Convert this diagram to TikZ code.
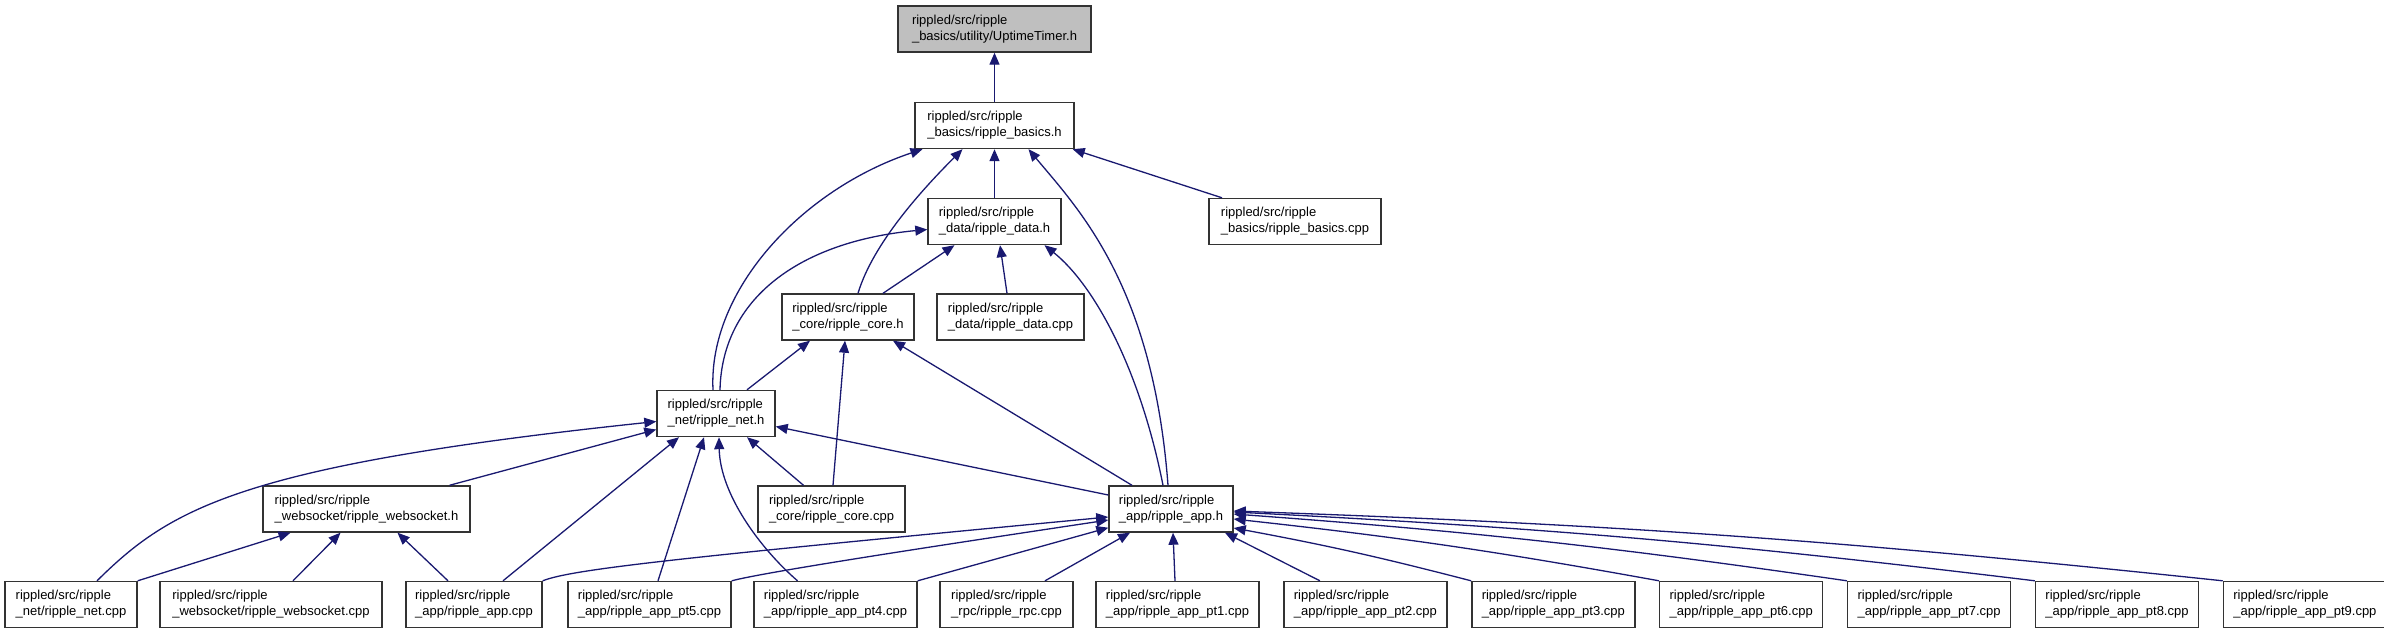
\documentclass[tikz,border=0pt]{standalone}
\usepackage{fontspec}
\setmainfont{Liberation Sans}
\usetikzlibrary{arrows.meta, positioning}
\definecolor{edgeblue}{RGB}{25,25,112}
\definecolor{rootgray}{RGB}{191,191,191}

\begin{document}
\begin{tikzpicture}[x=1pt, y=-1pt, font=\fontsize{13}{16}\selectfont,
    file/.style={draw=black!80, line width=1.4pt, fill=white, align=left, minimum height=46pt, inner xsep=8pt, inner ysep=0pt},
    rootfile/.style={file, fill=rootgray},
    ptfile/.style={file, minimum width=163pt},
    dep/.style={draw=edgeblue, line width=1.3pt, -{Triangle[length=12pt, width=10pt]}}]
    \useasboundingbox (0,0) rectangle (2384,635);

    % headers
    \node[rootfile, minimum width=193pt] (timer) at (994.5,29) {rippled/src/ripple\\\_basics/utility/UptimeTimer.h};
    \node[file, minimum width=159pt] (basicsh) at (994.5,125.5) {rippled/src/ripple\\\_basics/ripple\_basics.h};
    \node[file, minimum width=133pt] (datah) at (994.5,221.5) {rippled/src/ripple\\\_data/ripple\_data.h};
    \node[file, minimum width=172pt] (basicscpp) at (1295,221.5) {rippled/src/ripple\\\_basics/ripple\_basics.cpp};
    \node[file, minimum width=132pt] (coreh) at (848,317) {rippled/src/ripple\\\_core/ripple\_core.h};
    \node[file, minimum width=147pt] (datacpp) at (1010.5,317) {rippled/src/ripple\\\_data/ripple\_data.cpp};
    \node[file, minimum width=118pt] (neth) at (716,413.5) {rippled/src/ripple\\\_net/ripple\_net.h};
    \node[file, minimum width=207pt] (wsh) at (366.5,509) {rippled/src/ripple\\\_websocket/ripple\_websocket.h};
    \node[file, minimum width=147pt] (corecpp) at (831.5,509) {rippled/src/ripple\\\_core/ripple\_core.cpp};
    \node[file, minimum width=124pt] (apph) at (1171,509) {rippled/src/ripple\\\_app/ripple\_app.h};

    % bottom row
    \node[file, minimum width=132pt] (netcpp) at (71,604.5) {rippled/src/ripple\\\_net/ripple\_net.cpp};
    \node[file, minimum width=222pt] (wscpp) at (271,604.5) {rippled/src/ripple\\\_websocket/ripple\_websocket.cpp};
    \node[file, minimum width=136pt] (appcpp) at (474,604.5) {rippled/src/ripple\\\_app/ripple\_app.cpp};
    \node[ptfile] (pt5) at (649.5,604.5) {rippled/src/ripple\\\_app/ripple\_app\_pt5.cpp};
    \node[ptfile] (pt4) at (835.5,604.5) {rippled/src/ripple\\\_app/ripple\_app\_pt4.cpp};
    \node[file, minimum width=133pt] (rpc) at (1006.5,604.5) {rippled/src/ripple\\\_rpc/ripple\_rpc.cpp};
    \node[ptfile] (pt1) at (1177.5,604.5) {rippled/src/ripple\\\_app/ripple\_app\_pt1.cpp};
    \foreach \prev/\cur in {pt1/pt2, pt2/pt3, pt3/pt6, pt6/pt7, pt7/pt8, pt8/pt9}
        \node[ptfile, right=23.5pt of \prev] (\cur) {rippled/src/ripple\\\_app/ripple\_app\_\cur.cpp};

    % into UptimeTimer.h and ripple_basics.h
    \draw[dep] (basicsh) -- (timer);
    \draw[dep] (datah) -- (basicsh);
    \draw[dep] ([xshift=-73pt]basicscpp.north) -- ([xshift=-2pt]basicsh.south east);
    \draw[dep] ([xshift=10pt]coreh.north) .. controls +(15,-50) and +(-40,40) .. ([xshift=-32pt]basicsh.south);
    \draw[dep] ([xshift=-3pt]neth.north) .. controls +(-5,-100) and +(-120,40) .. ([xshift=-72pt]basicsh.south);
    \draw[dep] ([xshift=-3pt]apph.north) .. controls +(-15,-200) and +(50,60) .. ([xshift=34pt]basicsh.south);

    % into ripple_data.h
    \draw[dep] ([xshift=35pt]coreh.north) -- ([xshift=-40pt]datah.south);
    \draw[dep] ([xshift=-3.5pt]datacpp.north) -- ([xshift=5.5pt]datah.south);
    \draw[dep] ([xshift=4pt]neth.north) .. controls +(2,-91) and +(-128,12) .. ([yshift=-8pt]datah.west);
    \draw[dep] ([xshift=-8pt]apph.north) .. controls +(-23,-116) and +(50,40) .. ([xshift=50pt]datah.south);

    % into ripple_core.h
    \draw[dep] ([xshift=31pt]neth.north) -- ([xshift=-38pt]coreh.south);
    \draw[dep] ([xshift=1.5pt]corecpp.north) -- ([xshift=-3pt]coreh.south);
    \draw[dep] ([xshift=-39pt]apph.north) -- ([xshift=45pt]coreh.south);

    % into ripple_net.h
    \draw[dep] ([yshift=14pt]apph.west) -- ([yshift=-13pt]neth.east);
    \draw[dep] ([xshift=83pt]wsh.north) -- ([yshift=-16pt]neth.west);
    \draw[dep] ([xshift=26pt]netcpp.north) .. controls +(73,-72) and +(-417,44) .. ([yshift=-8pt]neth.west);
    \draw[dep] ([xshift=29pt]appcpp.north) -- ([xshift=-37pt]neth.south);
    \draw[dep] ([xshift=8.5pt]pt5.north) -- ([xshift=-12pt]neth.south);
    \draw[dep] ([xshift=-38pt]pt4.north) .. controls +(-37,-32) and +(1,57) .. ([xshift=3pt]neth.south);
    \draw[dep] ([xshift=-28pt]corecpp.north) -- ([xshift=31pt]neth.south);

    % into ripple_websocket.h
    \draw[dep] (netcpp.north east) -- ([xshift=-76pt]wsh.south);
    \draw[dep] ([xshift=22pt]wscpp.north) -- ([xshift=-26pt]wsh.south);
    \draw[dep] ([xshift=-26pt]appcpp.north) -- ([xshift=31pt]wsh.south);

    % into ripple_app.h
    \draw[dep] (appcpp.north east) .. controls +(30,-12) and +(-420,40) .. ([yshift=-8pt]apph.west);
    \draw[dep] (pt5.north east) .. controls +(30,-8) and +(-200,30) .. ([yshift=-11pt]apph.west);
    \draw[dep] (pt4.north east) -- ([yshift=5pt]apph.south west);
    \draw[dep] ([xshift=38.5pt]rpc.north) -- ([xshift=-41pt]apph.south);
    \draw[dep] ([xshift=-2.5pt]pt1.north) -- ([xshift=2pt]apph.south);
    \draw[dep] ([xshift=-45.5pt]pt2.north) -- ([xshift=54pt]apph.south);
    \foreach \n/\dy in {pt3/-19, pt6/-10, pt7/-5, pt8/-3, pt9/-2}
        \draw[dep] (\n.north west) to[bend right=2] ([yshift=\dy pt]apph.east);
\end{tikzpicture}
\end{document}
